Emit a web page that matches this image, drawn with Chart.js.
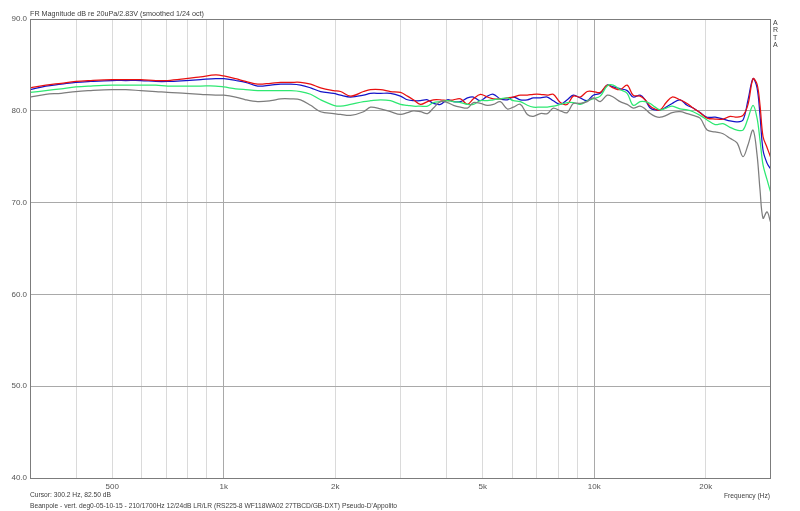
<!DOCTYPE html>
<html>
<head>
<meta charset="utf-8">
<script src="https://cdn.jsdelivr.net/npm/chart.js@4"></script>
<style>
  html, body { margin: 0; padding: 0; background: #fff; }
  #wrap { width: 800px; height: 511px; position: relative; }
</style>
</head>
<body>
<div id="wrap"><canvas id="graficoFR"></canvas></div>
<script>
// Frecuencias (Hz) y niveles (dB)
const freqs = [300, 331, 364, 399, 438, 500, 544, 597, 656, 706, 790, 867, 951, 1000, 1077, 1146, 1235, 1339, 1424, 1516,
  1612, 1716, 1826, 1980, 2067, 2199, 2385, 2490, 2650, 2819, 3000, 3133, 3252, 3396, 3548, 3681, 3845, 4017, 4169, 4355,
  4548, 4720, 4929, 5148, 5343, 5580, 5828, 6049, 6318, 6599, 6848, 7152, 7469, 7753, 8098, 8457, 8778, 9168, 9575, 9938,
  10380, 10840, 11250, 11750, 12270, 12740, 13300, 13720, 14160, 14600, 15070, 15640, 16230, 17050, 17810, 18490, 19310, 20170, 21200, 22270,
  23260, 24290, 25210, 26010, 26830, 27510, 28020, 28550, 29270, 29900];

const rojo = [82.5, 82.8, 83.0, 83.2, 83.3, 83.4, 83.4, 83.4, 83.3, 83.3, 83.5, 83.7, 83.9, 83.8, 83.5, 83.2, 82.9, 83.0, 83.1, 83.1,
  83.1, 82.9, 82.5, 82.2, 82.1, 81.6, 82.1, 82.3, 82.3, 82.1, 82.0, 81.6, 81.2, 80.7, 81.0, 81.2, 81.2, 81.1, 81.2, 81.3,
  80.7, 81.3, 81.8, 81.5, 81.3, 81.3, 81.4, 81.5, 81.7, 81.7, 81.8, 81.8, 81.7, 81.8, 80.9, 80.7, 81.6, 81.5, 82.1, 82.1,
  82.0, 82.8, 82.5, 82.3, 82.8, 81.7, 81.6, 81.2, 80.5, 80.2, 80.1, 80.9, 81.5, 81.2, 80.8, 80.3, 79.8, 79.2, 79.1, 79.1,
  79.4, 79.3, 79.5, 80.7, 83.5, 82.9, 80.6, 77.2, 76.0, 75.0];

const azul = [82.3, 82.7, 82.9, 83.1, 83.2, 83.3, 83.3, 83.3, 83.2, 83.2, 83.3, 83.4, 83.5, 83.5, 83.3, 83.1, 82.7, 82.8, 82.9, 82.9,
  82.8, 82.5, 82.1, 81.9, 81.7, 81.5, 81.7, 81.9, 81.9, 81.9, 81.6, 81.2, 81.1, 81.1, 81.2, 80.8, 80.7, 81.2, 81.0, 81.0,
  81.4, 81.5, 81.1, 81.6, 81.8, 81.3, 81.2, 81.5, 81.2, 81.2, 81.4, 81.4, 81.5, 81.1, 80.7, 81.2, 81.7, 81.4, 81.1, 81.7,
  81.9, 82.8, 82.6, 82.4, 82.2, 81.5, 81.7, 81.2, 80.3, 80.1, 80.1, 80.4, 80.8, 81.2, 80.6, 80.3, 79.8, 79.3, 79.3, 79.1,
  78.9, 78.8, 79.0, 81.2, 83.5, 82.5, 79.5, 75.7, 74.3, 73.7];

const verde = [82.0, 82.2, 82.4, 82.6, 82.7, 82.8, 82.8, 82.8, 82.8, 82.7, 82.7, 82.7, 82.7, 82.6, 82.4, 82.3, 82.2, 82.2, 82.2, 82.2,
  82.1, 81.8, 81.2, 80.6, 80.5, 80.7, 81.0, 81.1, 81.2, 81.1, 80.7, 80.6, 80.5, 80.5, 80.5, 80.9, 81.0, 81.1, 81.0, 80.9,
  80.7, 80.7, 81.1, 81.1, 81.2, 81.3, 81.4, 81.1, 81.0, 80.6, 80.4, 80.4, 80.4, 80.5, 80.7, 80.9, 80.9, 80.7, 81.1, 81.3,
  81.6, 82.7, 82.8, 82.3, 81.9, 80.6, 81.0, 81.0, 80.8, 80.4, 80.1, 80.3, 80.5, 80.2, 80.1, 79.9, 79.5, 79.0, 78.5, 78.6,
  78.2, 77.9, 77.9, 79.2, 80.6, 79.2, 76.8, 74.1, 72.5, 71.2];

const gris = [81.5, 81.8, 81.9, 82.1, 82.2, 82.3, 82.3, 82.2, 82.1, 82.0, 81.9, 81.8, 81.7, 81.7, 81.5, 81.2, 81.0, 81.1, 81.3, 81.3,
  81.2, 80.6, 79.9, 79.7, 79.6, 79.5, 79.9, 80.4, 80.2, 79.9, 79.6, 79.8, 80.0, 79.9, 79.7, 80.3, 81.0, 80.9, 80.6, 80.4,
  80.3, 80.9, 80.8, 80.6, 80.7, 81.0, 80.2, 80.4, 80.7, 79.6, 79.4, 79.7, 79.7, 80.3, 80.0, 79.8, 80.8, 80.8, 81.0, 81.4,
  81.0, 81.7, 81.5, 81.0, 80.7, 80.3, 80.5, 80.2, 79.7, 79.4, 79.3, 79.5, 79.8, 79.9, 79.7, 79.5, 79.2, 77.9, 77.7, 77.5,
  77.0, 76.5, 75.0, 76.3, 77.9, 75.2, 71.4, 68.3, 69.0, 67.9];

const marcasX = [400, 500, 600, 700, 800, 900, 1000, 2000, 3000, 4000, 5000, 6000, 7000, 8000, 9000, 10000, 20000];
const etiquetasX = [500, 1000, 2000, 5000, 10000, 20000];

const puntos = arr => freqs.map((f, i) => ({ x: f, y: arr[i] }));

// Textos fijos del gráfico (título, cursor, pie, ARTA)
const textosARTA = {
    id: 'textosARTA',
    afterDraw(chart) {
        const ctx = chart.ctx;
        const a = chart.chartArea;
        ctx.save();
        ctx.strokeStyle = '#7c7c7c';
        ctx.lineWidth = 1;
        ctx.strokeRect(Math.round(a.left) + 0.5, Math.round(a.top) + 0.5, Math.round(a.right - a.left) - 1, Math.round(a.bottom - a.top));
        ctx.fillStyle = '#3c3c3c';
        ctx.font = '8px "Liberation Sans", Arial, sans-serif';
        ctx.textBaseline = 'middle';
        ctx.textAlign = 'left';
        ctx.fillText('FR Magnitude dB re 20uPa/2.83V (smoothed 1/24 oct)', 30, 14, 174);
        ctx.fillText('Cursor: 300.2 Hz, 82.50 dB', 30, 495, 81);
        ctx.fillText("Beanpole - vert. deg0-05-10-15 - 210/1700Hz 12/24dB LR/LR (RS225-8 WF118WA02 27TBCD/GB-DXT) Pseudo-D'Appolito", 30, 506, 367);
        ctx.textAlign = 'right';
        ctx.fillText('Frequency (Hz)', 770, 496, 46);
        ctx.textAlign = 'left';
        ctx.font = '7px "Liberation Sans", Arial, sans-serif';
        ['A', 'R', 'T', 'A'].forEach((l, i) => ctx.fillText(l, 773, 23 + i * 7.5));
        ctx.restore();
    }
};

const ctxFR = document.getElementById('graficoFR').getContext('2d');
new Chart(ctxFR, {
    type: 'line',
    data: {
        datasets: [
            { label: 'gris', data: puntos(gris), borderColor: '#7d7d7d' },
            { label: 'verde', data: puntos(verde), borderColor: '#2ee872' },
            { label: 'rojo', data: puntos(rojo), borderColor: '#e81010' },
            { label: 'azul', data: puntos(azul), borderColor: '#1414c8' }
        ].map(d => Object.assign(d, { borderWidth: 1.25, pointRadius: 0, tension: 0.35, fill: false }))
    },
    options: {
        responsive: true,
        maintainAspectRatio: false,
        animation: false,
        layout: { padding: { left: 0, top: 19, right: 29, bottom: 0 } },
        plugins: {
            legend: { display: false },
            tooltip: { enabled: false }
        },
        scales: {
            x: {
                type: 'logarithmic',
                min: 300,
                max: 30000,
                afterFit: s => { s.height = 33; },
                afterBuildTicks: s => { s.ticks = marcasX.map(v => ({ value: v })); },
                border: { display: false },
                grid: {
                    drawTicks: false,
                    color: c => (c.tick && (c.tick.value === 1000 || c.tick.value === 10000)) ? '#a9a9a9' : '#dadada'
                },
                ticks: {
                    autoSkip: false,
                    maxRotation: 0,
                    padding: 4,
                    color: '#555',
                    font: { family: '"Liberation Sans", Arial, sans-serif', size: 8 },
                    callback: function(value) {
                        if (!etiquetasX.includes(value)) return '';
                        return value >= 1000 ? (value / 1000) + 'k' : String(value);
                    }
                }
            },
            y: {
                min: 40,
                max: 90,
                afterFit: s => { s.width = 30; },
                border: { display: false },
                grid: { drawTicks: false, color: '#a9a9a9' },
                ticks: {
                    stepSize: 10,
                    padding: 3,
                    color: '#555',
                    font: { family: '"Liberation Sans", Arial, sans-serif', size: 8 },
                    callback: v => v.toFixed(1)
                }
            }
        }
    },
    plugins: [textosARTA]
});
</script>
</body>
</html>
